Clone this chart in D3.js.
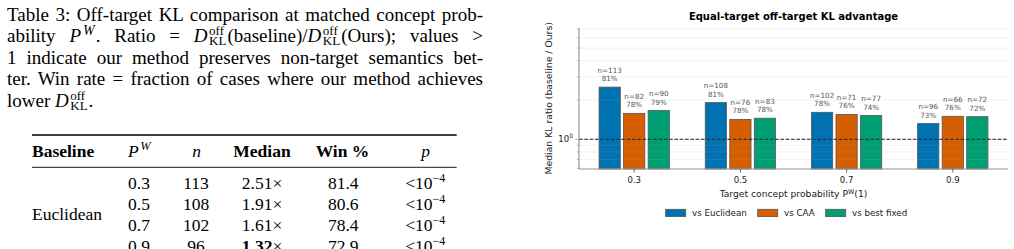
<!DOCTYPE html>
<html>
<head>
<meta charset="utf-8">
<script src="https://cdn.jsdelivr.net/npm/d3@7"></script>
<style>
  body { margin: 0; background: #fff; width: 1014px; height: 249px; overflow: hidden; position: relative; }
  #caption { position: absolute; left: 7px; top: 0; width: 476px; font-family: "Liberation Serif", serif; font-size: 19px; color: #000; }
  .ln { position: absolute; left: 0; width: 476px; line-height: 21.6px; text-align: justify; text-align-last: justify; white-space: nowrap; }
  .ln.last { text-align: left; text-align-last: left; }
  .ss { display: inline-block; vertical-align: -2.5px; font-size: 13px; line-height: 9.8px; text-align: left; margin-left: 1.5px; margin-right: 1px; }
  .ss span { display: block; }
  .sw { font-size: 14px; position: relative; top: -7px; line-height: 0; margin-left: 2px; margin-right: 1px; }
  svg { position: absolute; left: 0; top: 0; }
</style>
</head>
<body>
<div id="caption"></div>
<svg id="chart" width="1014" height="249"></svg>
<script>
// chart data
var groups = ["0.3", "0.5", "0.7", "0.9"];
var seriesNames = ["vs Euclidean", "vs CAA", "vs best fixed"];
var seriesColors = ["#0072B2", "#D55E00", "#009E73"];
var euclidean = [2.51, 1.91, 1.61, 1.32];
var caa = [1.58, 1.42, 1.55, 1.50];
var bestFixed = [1.66, 1.45, 1.52, 1.49];
var nEuclidean = [113, 108, 102, 96];
var nCaa = [82, 76, 71, 66];
var nBest = [90, 83, 77, 72];
var winEuclidean = [81, 81, 78, 73];
var winCaa = [78, 78, 76, 76];
var winBest = [79, 78, 74, 72];

// table data
var tablePw = ["0.3", "0.5", "0.7", "0.9"];
var tableN = ["113", "108", "102", "96"];
var tableMedian = ["2.51", "1.91", "1.61", "1.32"];
var tableWin = ["81.4", "80.6", "78.4", "72.9"];

// caption (HTML, one justified line each)
var dkl = '<i>D</i><span class="ss"><span>off</span><span>KL</span></span>';
var captionLines = [
  'Table 3: Off-target KL comparison at matched concept prob-',
  'ability <i>P</i><span class="sw"><i>W</i></span>. Ratio = ' + dkl + '(baseline)/' + dkl + '(Ours); values &gt;',
  '1 indicate our method preserves non-target semantics bet-',
  'ter. Win rate = fraction of cases where our method achieves',
  'lower ' + dkl + '.'
];
d3.select("#caption").selectAll("div")
  .data(captionLines)
  .enter().append("div")
  .attr("class", function(d, i) { return i === captionLines.length - 1 ? "ln last" : "ln"; })
  .style("top", function(d, i) { return (3.6 + i * 21.6) + "px"; })
  .html(function(d) { return d; });

var svg = d3.select("#chart");

// ---- table ----
var tbl = svg.append("g").attr("font-family", "Liberation Serif, serif").attr("font-size", 17.5).attr("fill", "#000");
tbl.append("line").attr("x1", 32).attr("x2", 456.7).attr("y1", 135).attr("y2", 135).attr("stroke", "#000").attr("stroke-width", 1.4);
tbl.append("line").attr("x1", 32).attr("x2", 456.7).attr("y1", 167.3).attr("y2", 167.3).attr("stroke", "#000").attr("stroke-width", 0.9);

var headY = 157.3;
tbl.append("text").attr("x", 32).attr("y", headY).attr("font-weight", "bold").text("Baseline");
var pw = tbl.append("text").attr("x", 128).attr("y", headY).attr("font-style", "italic");
pw.append("tspan").text("P");
pw.append("tspan").attr("font-size", 12.5).attr("dx", 1.5).attr("dy", -7).text("W");
tbl.append("text").attr("x", 196.5).attr("y", headY).attr("text-anchor", "middle").attr("font-style", "italic").text("n");
tbl.append("text").attr("x", 262).attr("y", headY).attr("text-anchor", "middle").attr("font-weight", "bold").text("Median");
tbl.append("text").attr("x", 342.5).attr("y", headY).attr("text-anchor", "middle").attr("font-weight", "bold").text("Win %");
tbl.append("text").attr("x", 425.5).attr("y", headY).attr("text-anchor", "middle").attr("font-style", "italic").text("p");

var rowY = function(i) { return 189.3 + i * 20.9; };
tbl.append("text").attr("x", 32).attr("y", 220).text("Euclidean");
tablePw.forEach(function(v, i) {
  tbl.append("text").attr("x", 128).attr("y", rowY(i)).text(v);
  tbl.append("text").attr("x", 196).attr("y", rowY(i)).attr("text-anchor", "middle").text(tableN[i]);
  var m = tbl.append("text").attr("x", 262).attr("y", rowY(i)).attr("text-anchor", "middle");
  m.append("tspan").attr("font-weight", i === 3 ? "bold" : "normal").text(tableMedian[i]);
  m.append("tspan").text("\u00d7");
  tbl.append("text").attr("x", 343.3).attr("y", rowY(i)).attr("text-anchor", "middle").text(tableWin[i]);
  var p = tbl.append("text").attr("x", 425.3).attr("y", rowY(i)).attr("text-anchor", "middle");
  p.append("tspan").text("<10");
  p.append("tspan").attr("font-size", 12).attr("dy", -7).text("\u22124");
});

// ---- chart ----
var axL = 579, axR = 1008, axT = 27.7, axB = 169;

var x = d3.scalePoint().domain(groups).range([axL, axR]).padding(0.52);
var y = d3.scaleLog().domain([0.592, 7.16]).range([axB, axT]);
var step = x.step();
var barW = 0.2 * step;
var offsets = [-0.231, 0, 0.231];

var chart = svg.append("g").attr("font-family", "DejaVu Sans, sans-serif");

// title
chart.append("text").attr("x", (axL + axR) / 2).attr("y", 19.5)
  .attr("text-anchor", "middle").attr("font-weight", "bold").attr("font-size", 10)
  .text("Equal-target off-target KL advantage");

var tickVals = [0.6, 0.7, 0.8, 0.9, 1, 2, 3, 4, 5, 6, 7];

// bars
var seriesVals = [euclidean, caa, bestFixed];
var seriesN = [nEuclidean, nCaa, nBest];
var seriesWin = [winEuclidean, winCaa, winBest];
var bars = [];
seriesVals.forEach(function(vals, s) {
  vals.forEach(function(v, g) {
    bars.push({ s: s, g: groups[g], v: v, n: seriesN[s][g], w: seriesWin[s][g] });
  });
});

chart.selectAll("rect.bar")
  .data(bars)
  .enter().append("rect")
  .attr("class", "bar")
  .attr("x", function(d) { return x(d.g) + offsets[d.s] * step - barW / 2; })
  .attr("y", function(d) { return y(d.v); })
  .attr("width", barW)
  .attr("height", function(d) { return axB - y(d.v); })
  .attr("fill", function(d) { return seriesColors[d.s]; })
  .attr("stroke", "#555")
  .attr("stroke-width", 0.8);

// grid on top, faint
chart.selectAll("line.grid")
  .data(tickVals)
  .enter().append("line")
  .attr("x1", axL).attr("x2", axR)
  .attr("y1", function(d) { return y(d); })
  .attr("y2", function(d) { return y(d); })
  .attr("stroke", "#b0b0b0").attr("stroke-opacity", 0.2).attr("stroke-width", 0.8);

// reference line at 1
chart.append("line").attr("x1", axL).attr("x2", axR)
  .attr("y1", y(1)).attr("y2", y(1))
  .attr("stroke", "#222").attr("stroke-width", 1).attr("stroke-dasharray", "3.7,1.6");

// annotations
var ann = chart.selectAll("g.ann").data(bars).enter().append("g")
  .attr("fill", "#555").attr("font-size", 7.2).attr("text-anchor", "middle");
ann.append("text")
  .attr("x", function(d) { return x(d.g) + offsets[d.s] * step; })
  .attr("y", function(d) { return y(d.v) - 14.5; })
  .text(function(d) { return "n=" + d.n; });
ann.append("text")
  .attr("x", function(d) { return x(d.g) + offsets[d.s] * step; })
  .attr("y", function(d) { return y(d.v) - 6; })
  .text(function(d) { return d.w + "%"; });

// axes
var spine = "#999";
chart.append("line").attr("x1", axL).attr("x2", axL).attr("y1", axT).attr("y2", axB).attr("stroke", spine).attr("stroke-width", 1.2);
chart.append("line").attr("x1", axL).attr("x2", axR).attr("y1", axB).attr("y2", axB).attr("stroke", spine).attr("stroke-width", 1.2);

chart.selectAll("line.ytick").data(tickVals).enter().append("line")
  .attr("x1", function(d) { return d === 1 ? axL - 3.5 : axL - 2; })
  .attr("x2", axL)
  .attr("y1", function(d) { return y(d); })
  .attr("y2", function(d) { return y(d); })
  .attr("stroke", spine).attr("stroke-width", 0.8);

var yl = chart.append("text").attr("x", 573).attr("y", y(1) + 3).attr("text-anchor", "end").attr("font-size", 8.5).attr("fill", "#222");
yl.append("tspan").text("10");
yl.append("tspan").attr("font-size", 6).attr("dy", -4).text("0");

chart.selectAll("line.xtick").data(groups).enter().append("line")
  .attr("x1", function(d) { return x(d); }).attr("x2", function(d) { return x(d); })
  .attr("y1", axB).attr("y2", axB + 3.5)
  .attr("stroke", "#444").attr("stroke-width", 0.8);
chart.selectAll("text.xtl").data(groups).enter().append("text")
  .attr("x", function(d) { return x(d); }).attr("y", 183.2)
  .attr("text-anchor", "middle").attr("font-size", 8.5).attr("fill", "#222")
  .text(function(d) { return d; });

var xl = chart.append("text").attr("x", (axL + axR) / 2).attr("y", 197.4)
  .attr("text-anchor", "middle").attr("font-size", 9.2).attr("fill", "#222");
xl.append("tspan").text("Target concept probability P");
xl.append("tspan").attr("font-size", 6.4).attr("dy", -3.7).text("W");
xl.append("tspan").attr("dy", 3.7).text("(1)");

chart.append("text").attr("transform", "translate(552," + ((axT + axB) / 2) + ") rotate(-90)")
  .attr("text-anchor", "middle").attr("font-size", 9.3).attr("fill", "#222")
  .text("Median KL ratio (baseline / Ours)");

// legend
var legX = [665.7, 757.7, 825.7];
var leg = chart.selectAll("g.leg").data(seriesNames).enter().append("g");
leg.append("rect")
  .attr("x", function(d, i) { return legX[i]; }).attr("y", 209.3)
  .attr("width", 20).attr("height", 7.3)
  .attr("fill", function(d, i) { return seriesColors[i]; })
  .attr("stroke", "#555").attr("stroke-width", 0.8);
leg.append("text")
  .attr("x", function(d, i) { return legX[i] + 26.3; }).attr("y", 215.8)
  .attr("font-size", 8.7).attr("fill", "#222")
  .text(function(d) { return d; });
</script>
</body>
</html>
